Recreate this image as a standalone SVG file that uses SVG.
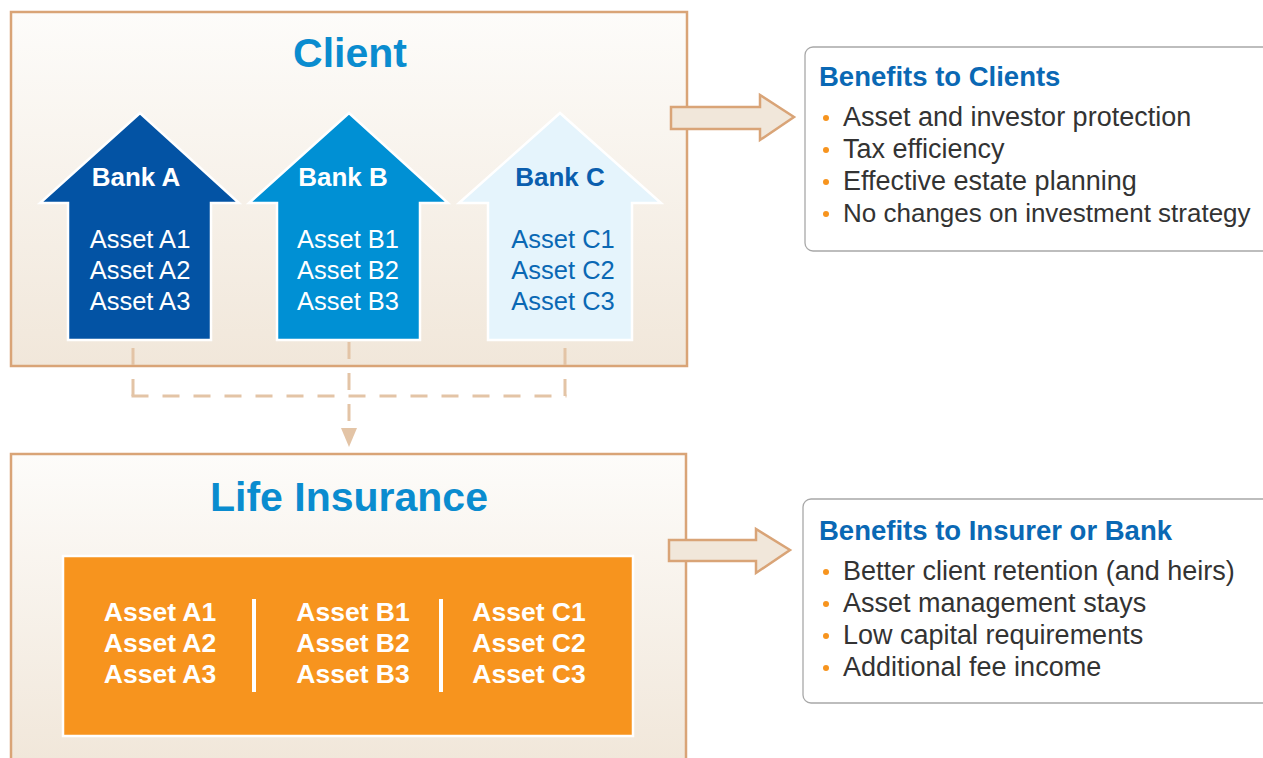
<svg xmlns="http://www.w3.org/2000/svg" width="1263" height="758" viewBox="0 0 1263 758">
<defs>
<linearGradient id="bg" x1="0" y1="0" x2="0" y2="1">
<stop offset="0" stop-color="#fdfcfa"/>
<stop offset="1" stop-color="#f1e7da"/>
</linearGradient>
<style>
.frame{fill:url(#bg);stroke:#d9a477;stroke-width:2.5}
.title{font-family:"Liberation Sans",Arial,sans-serif;font-weight:bold;font-size:41px;fill:#0a8ccf;text-anchor:middle}
.bank{font-family:"Liberation Sans",Arial,sans-serif;font-weight:bold;font-size:26px;text-anchor:middle}
.asset{font-family:"Liberation Sans",Arial,sans-serif;font-size:25.5px;text-anchor:middle}
.oasset{font-family:"Liberation Sans",Arial,sans-serif;font-weight:bold;font-size:26.5px;fill:#fff;text-anchor:middle}
.arrowshape{stroke:#fff;stroke-width:2.5}
.dash{fill:none;stroke:#e3c4a6;stroke-width:3;stroke-dasharray:17 14}
.block{fill:#f1e7da;stroke:#d9a477;stroke-width:2.5}
.bbox{fill:#fff;stroke:#a8a8a8;stroke-width:1.3}
.btitle{font-family:"Liberation Sans",Arial,sans-serif;font-weight:bold;font-size:27.5px;fill:#0a68b4}
.bitem{font-family:"Liberation Sans",Arial,sans-serif;font-size:27px;fill:#333}
.dot{fill:#f7941e}
</style>
</defs>
<rect width="1263" height="758" fill="#fff"/>

<g id="client">
<rect class="frame" x="11" y="12" width="676" height="354"/>
<text class="title" x="350" y="67">Client</text>
</g>

<g id="bankA">
<path class="arrowshape" fill="#0353a4" d="M140,113 L239,203 L211,203 L211,340 L68,340 L68,203 L40,203 Z"/>
<text class="bank" x="136" y="186" fill="#fff">Bank A</text>
<text class="asset" x="140" y="248" fill="#fff">Asset A1</text>
<text class="asset" x="140" y="279" fill="#fff">Asset A2</text>
<text class="asset" x="140" y="310" fill="#fff">Asset A3</text>
</g>

<g id="bankB">
<path class="arrowshape" fill="#0090d4" d="M349,113 L448,203 L420,203 L420,340 L277,340 L277,203 L249,203 Z"/>
<text class="bank" x="343" y="186" fill="#fff">Bank B</text>
<text class="asset" x="348" y="248" fill="#fff">Asset B1</text>
<text class="asset" x="348" y="279" fill="#fff">Asset B2</text>
<text class="asset" x="348" y="310" fill="#fff">Asset B3</text>
</g>

<g id="bankC">
<path class="arrowshape" fill="#e5f4fc" d="M560,113 L661,203 L632,203 L632,340 L488,340 L488,203 L459,203 Z"/>
<text class="bank" x="560" y="186" fill="#0a5eae">Bank C</text>
<text class="asset" x="563" y="248" fill="#0a68b4">Asset C1</text>
<text class="asset" x="563" y="279" fill="#0a68b4">Asset C2</text>
<text class="asset" x="563" y="310" fill="#0a68b4">Asset C3</text>
</g>

<g id="life">
<path class="frame" d="M11,760 L11,454 L686,454 L686,760"/>
<text class="title" x="349" y="511">Life Insurance</text>
</g>

<g id="pool">
<rect x="63" y="556" width="570" height="180" fill="#f7941e" stroke="#fff" stroke-width="2.5"/>
<text class="oasset" x="160" y="621">Asset A1</text>
<text class="oasset" x="160" y="652">Asset A2</text>
<text class="oasset" x="160" y="683">Asset A3</text>
<text class="oasset" x="353" y="621">Asset B1</text>
<text class="oasset" x="353" y="652">Asset B2</text>
<text class="oasset" x="353" y="683">Asset B3</text>
<text class="oasset" x="529" y="621">Asset C1</text>
<text class="oasset" x="529" y="652">Asset C2</text>
<text class="oasset" x="529" y="683">Asset C3</text>
<rect x="252" y="599" width="4" height="93" fill="#fff"/>
<rect x="439" y="599" width="4" height="93" fill="#fff"/>
</g>

<g id="connectors">
<path class="dash" d="M133,396 L133,344"/>
<path class="dash" d="M565,396 L565,344"/>
<path class="dash" d="M131.5,396 L566.5,396"/>
<path class="dash" d="M349,342 L349,425"/>
<path d="M341,428 L357,428 L349,447 Z" fill="#e3c4a6"/>
<path class="block" d="M671,107 L760,107 L760,95 L794,117 L760,140 L760,129 L671,129 Z"/>
<path class="block" d="M669,540 L756,540 L756,529 L790,550 L756,573 L756,561 L669,561 Z"/>
</g>

<g id="benefitsClients">
<rect class="bbox" x="805" y="47" width="480" height="204" rx="8"/>
<text class="btitle" x="819" y="86">Benefits to Clients</text>
<circle class="dot" cx="826" cy="118" r="3"/>
<circle class="dot" cx="826" cy="150" r="3"/>
<circle class="dot" cx="826" cy="182" r="3"/>
<circle class="dot" cx="826" cy="214" r="3"/>
<text class="bitem" x="843" y="126">Asset and investor protection</text>
<text class="bitem" x="843" y="158">Tax efficiency</text>
<text class="bitem" x="843" y="190">Effective estate planning</text>
<text class="bitem" x="843" y="222" style="font-size:26px">No changes on investment strategy</text>
</g>

<g id="benefitsInsurer">
<rect class="bbox" x="803" y="499" width="482" height="204" rx="8"/>
<text class="btitle" x="819" y="540">Benefits to Insurer or Bank</text>
<circle class="dot" cx="826" cy="572" r="3"/>
<circle class="dot" cx="826" cy="604" r="3"/>
<circle class="dot" cx="826" cy="636" r="3"/>
<circle class="dot" cx="826" cy="668" r="3"/>
<text class="bitem" x="843" y="580">Better client retention (and heirs)</text>
<text class="bitem" x="843" y="612">Asset management stays</text>
<text class="bitem" x="843" y="644">Low capital requirements</text>
<text class="bitem" x="843" y="676">Additional fee income</text>
</g>
</svg>
